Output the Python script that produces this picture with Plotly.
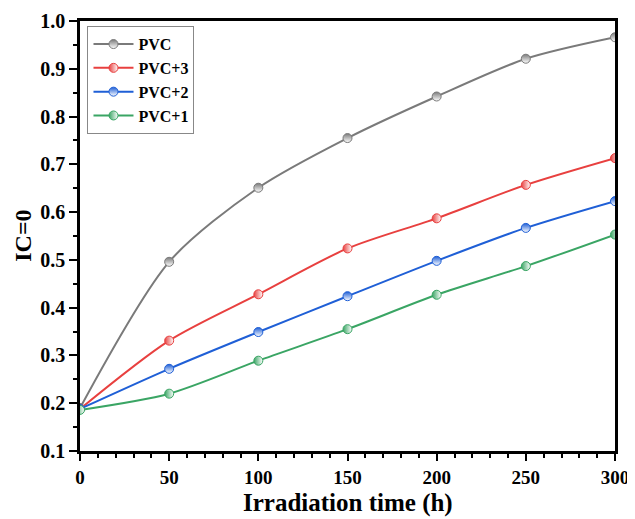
import plotly.graph_objects as go

time_h = [0, 50, 100, 150, 200, 250, 300]
series_names = ["PVC", "PVC+3", "PVC+2", "PVC+1"]
pvc = [0.19, 0.496, 0.651, 0.755, 0.842, 0.921, 0.966]
pvc3 = [0.188, 0.331, 0.428, 0.524, 0.587, 0.657, 0.713]
pvc2 = [0.188, 0.272, 0.349, 0.424, 0.498, 0.567, 0.623]
pvc1 = [0.186, 0.220, 0.289, 0.355, 0.427, 0.487, 0.553]
x_title = "Irradiation time (h)"
y_title = "IC=0"

colors = ["#7a7a7a", "#e8403f", "#1f5fd6", "#3aa564"]
grad_types = ["vertical", "horizontal", "vertical", "horizontal"]

fig = go.Figure()
for name, ys, c, g in zip(series_names, [pvc, pvc3, pvc2, pvc1], colors, grad_types):
    fig.add_trace(go.Scatter(
        x=time_h, y=ys, name=name, mode="lines+markers",
        line=dict(color=c, width=2, shape="spline", smoothing=0.8),
        marker=dict(symbol="circle", size=9, color=c,
                    gradient=dict(type=g, color="white"),
                    line=dict(color=c, width=1)),
    ))

font_family = "Liberation Serif, Times New Roman, serif"
fig.update_layout(
    width=627, height=511,
    margin=dict(l=72, r=20, t=13, b=68),
    paper_bgcolor="white", plot_bgcolor="white",
    font=dict(family=font_family, color="black"),
    showlegend=True,
    legend=dict(x=0.014, y=0.988, xanchor="left", yanchor="top",
                bordercolor="#888888", borderwidth=1, bgcolor="white",
                font=dict(size=16, family=font_family, weight="bold"),
                tracegroupgap=0, itemwidth=40),
    xaxis=dict(range=[0, 300], tickvals=[0, 50, 100, 150, 200, 250, 300],
               ticks="outside", ticklen=7, tickwidth=2, tickcolor="black",
               minor=dict(dtick=10, ticks="outside", ticklen=4, tickwidth=1.5, tickcolor="black"),
               showline=True, linecolor="black", linewidth=2.5, mirror=True,
               showgrid=False, zeroline=False, automargin=False,
               tickfont=dict(size=19, family=font_family, weight="bold")),
    yaxis=dict(range=[0.1, 1.0], tickvals=[0.1, 0.2, 0.3, 0.4, 0.5, 0.6, 0.7, 0.8, 0.9, 1.0],
               tickformat=".1f",
               ticks="outside", ticklen=8, tickwidth=2, tickcolor="black",
               minor=dict(dtick=0.05, ticks="outside", ticklen=4, tickwidth=1.5, tickcolor="black"),
               showline=True, linecolor="black", linewidth=2.5, mirror=True,
               showgrid=False, zeroline=False, automargin=False,
               tickfont=dict(size=20, family=font_family, weight="bold")),
    annotations=[
        dict(text=x_title, xref="paper", yref="paper", x=0.5, y=-0.12,
             xanchor="center", yanchor="middle", showarrow=False,
             font=dict(size=25, family=font_family, weight="bold")),
        dict(text=y_title, xref="paper", yref="paper", x=-0.107, y=0.5,
             xanchor="center", yanchor="middle", showarrow=False, textangle=-90,
             font=dict(size=24, family=font_family, weight="bold")),
    ],
)

fig.write_html("out.html")
